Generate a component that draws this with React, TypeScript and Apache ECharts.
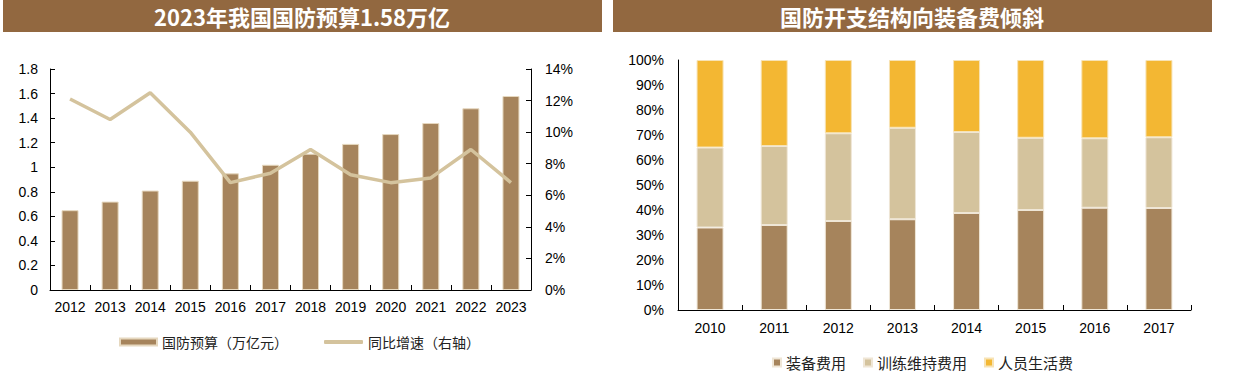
import React, { useEffect, useRef } from "react";
import * as echarts from "echarts";

const years1 = ["2012", "2013", "2014", "2015", "2016", "2017", "2018", "2019", "2020", "2021", "2022", "2023"];
const budget = [0.65, 0.72, 0.81, 0.89, 0.95, 1.02, 1.11, 1.19, 1.27, 1.36, 1.48, 1.58];
const growth = [12.1, 10.8, 12.5, 10.0, 6.8, 7.4, 8.9, 7.3, 6.8, 7.1, 8.9, 6.8];

const years2 = ["2010", "2011", "2012", "2013", "2014", "2015", "2016", "2017"];
const equipment = [33.0, 34.0, 35.6, 36.3, 38.8, 40.0, 40.9, 40.8];
const training = [32.0, 31.6, 35.1, 36.6, 32.4, 28.9, 27.8, 28.3];
const personnel = [35.0, 34.4, 29.3, 27.1, 28.8, 31.1, 31.3, 30.9];

const title1 = "2023年我国国防预算1.58万亿";
const title2 = "国防开支结构向装备费倾斜";

const BROWN = "#A6845C";
const TAN = "#D4C39D";
const GOLD = "#F3B733";
const BAR_TITLE = "#926840";
const AX = "Liberation Sans, Arial, sans-serif";
const CJK = "Noto Sans CJK SC, sans-serif";

export default function App() {
  const ref = useRef<HTMLDivElement>(null);
  useEffect(() => {
    if (!ref.current) return;
    const chart = echarts.init(ref.current, undefined, { renderer: "svg" });
    const axisLine = { show: true, lineStyle: { color: "#000", width: 1 } };
    const axisLabel = { color: "#000", fontSize: 14, fontFamily: AX };
    chart.setOption({
      animation: false,
      backgroundColor: "#fff",
      graphic: [
        { type: "rect", shape: { x: 3, y: 0, width: 599, height: 32 }, style: { fill: BAR_TITLE } },
        { type: "rect", shape: { x: 613, y: 0, width: 599, height: 32 }, style: { fill: BAR_TITLE } },
        {
          type: "text", x: 302, y: 16,
          style: { text: title1, fill: "#fff", font: `bold 22px ${CJK}`, textAlign: "center", textVerticalAlign: "middle" },
        },
        {
          type: "text", x: 912, y: 16,
          style: { text: title2, fill: "#fff", font: `bold 22px ${CJK}`, textAlign: "center", textVerticalAlign: "middle" },
        },
      ],
      grid: [
        { left: 50, right: 707, top: 69, bottom: 86 },
        { left: 678, right: 47, top: 60, bottom: 66 },
      ],
      legend: [
        {
          data: ["国防预算（万亿元）"], left: 114, top: 330, itemWidth: 37, itemHeight: 7, icon: "rect",
          textStyle: { fontSize: 14, fontFamily: CJK, color: "#222" },
        },
        {
          data: [{ name: "同比增速（右轴）", icon: "roundRect" }], left: 319, top: 330, itemWidth: 39, itemHeight: 4,
          textStyle: { fontSize: 14, fontFamily: CJK, color: "#222" },
        },
        {
          data: ["装备费用", "训练维持费用", "人员生活费"], left: 767, top: 350, itemWidth: 8, itemHeight: 8, icon: "rect",
          itemGap: 17,
          textStyle: { fontSize: 15, fontFamily: CJK, color: "#222" },
        },
      ],
      xAxis: [
        {
          type: "category", gridIndex: 0, data: years1, axisLine,
          axisTick: { show: true, inside: true, length: 5, lineStyle: { color: "#000" } },
          axisLabel: { ...axisLabel, margin: 10, interval: 0 },
        },
        {
          type: "category", gridIndex: 1, data: years2, axisLine,
          axisTick: { show: true, inside: true, length: 5, lineStyle: { color: "#000" } },
          axisLabel: { ...axisLabel, margin: 11, interval: 0 },
        },
      ],
      yAxis: [
        {
          type: "value", gridIndex: 0, min: 0, max: 1.8, interval: 0.2, axisLine,
          axisTick: { show: true, inside: true, length: 5, lineStyle: { color: "#000" } },
          splitLine: { show: false },
          axisLabel: { ...axisLabel, margin: 12, formatter: (v: number) => String(Math.round(v * 10) / 10) },
        },
        {
          type: "value", gridIndex: 0, position: "right", min: 0, max: 14, interval: 2, axisLine,
          axisTick: { show: true, inside: true, length: 5, lineStyle: { color: "#000" } },
          splitLine: { show: false },
          axisLabel: { ...axisLabel, margin: 14, formatter: "{value}%" },
        },
        {
          type: "value", gridIndex: 1, min: 0, max: 100, interval: 10, axisLine,
          axisTick: { show: false },
          splitLine: { show: false },
          axisLabel: { ...axisLabel, margin: 14, formatter: "{value}%" },
        },
      ],
      series: [
        {
          name: "国防预算（万亿元）", type: "bar", xAxisIndex: 0, yAxisIndex: 0, data: budget, barWidth: 17,
          itemStyle: { color: BROWN, borderColor: "#E6D8BF", borderWidth: 1 },
        },
        {
          name: "同比增速（右轴）", type: "line", xAxisIndex: 0, yAxisIndex: 1, data: growth,
          showSymbol: false, symbol: "none", lineStyle: { color: TAN, width: 3.5 }, itemStyle: { color: TAN },
        },
        {
          name: "装备费用", type: "bar", stack: "s", xAxisIndex: 1, yAxisIndex: 2, data: equipment, barWidth: 27,
          itemStyle: { color: BROWN, borderColor: "#EFE6D6", borderWidth: 1 },
        },
        {
          name: "训练维持费用", type: "bar", stack: "s", xAxisIndex: 1, yAxisIndex: 2, data: training, barWidth: 27,
          itemStyle: { color: TAN, borderColor: "#EFE6D6", borderWidth: 1 },
        },
        {
          name: "人员生活费", type: "bar", stack: "s", xAxisIndex: 1, yAxisIndex: 2, data: personnel, barWidth: 27,
          itemStyle: { color: GOLD, borderColor: "#F7E3B5", borderWidth: 1 },
        },
      ],
    });
    return () => chart.dispose();
  }, []);
  return <div ref={ref} style={{ position: "fixed", left: 0, top: 0, width: 1238, height: 376 }} />;
}
